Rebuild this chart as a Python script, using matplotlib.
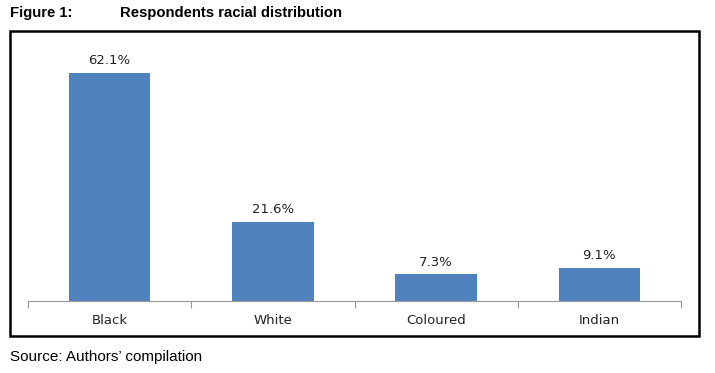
import matplotlib
matplotlib.use("Agg")
import matplotlib.pyplot as plt
from matplotlib.patches import Rectangle

categories = ["Black", "White", "Coloured", "Indian"]
values = [62.1, 21.6, 7.3, 9.1]
labels = ["62.1%", "21.6%", "7.3%", "9.1%"]

fig = plt.figure(figsize=(7.15, 3.73), dpi=100)
W, H = 715, 373

def fx(x): return x / W
def fy(y): return 1 - y / H

ax = fig.add_axes([fx(28), fy(301), fx(681) - fx(28), fy(44) - fy(301)])
x = list(range(len(categories)))
ax.bar(x, values, width=0.5, color="#4F81BD")
ax.set_xlim(-0.5, len(categories) - 0.5)
ax.set_ylim(0, 70)
for xi, v, lab in zip(x, values, labels):
    ax.annotate(lab, (xi, v), xytext=(0, 4), textcoords="offset points",
                ha="center", va="bottom", fontsize=9.5, color="#222222",
                family="DejaVu Sans")
for s in ["top", "right", "left"]:
    ax.spines[s].set_visible(False)
ax.spines["bottom"].set_color("#999999")
ax.set_yticks([])
ax.set_xticks([i - 0.5 for i in range(len(categories) + 1)], minor=False)
ax.set_xticklabels([])
ax.tick_params(axis="x", length=5, color="#999999", direction="out")
ax.set_xticks(x, minor=True)
ax.set_xticklabels(categories, minor=True)
ax.tick_params(axis="x", which="minor", length=0, pad=9, labelsize=9.5,
               labelcolor="#222222")

# outer frame
fig.patches.append(Rectangle((fx(10), fy(336)), fx(699) - fx(10), fy(31) - fy(336),
                             transform=fig.transFigure, fill=False,
                             edgecolor="black", linewidth=1.8))

fig.text(fx(10), fy(13), "Figure 1:", fontsize=10.7, fontweight="bold",
         family="Liberation Sans", va="center", ha="left")
fig.text(fx(120), fy(13), "Respondents racial distribution", fontsize=10.7,
         fontweight="bold", family="Liberation Sans", va="center", ha="left")
fig.text(fx(10), fy(357), "Source: Authors\u2019 compilation", fontsize=11,
         family="Liberation Sans", va="center", ha="left")

fig.savefig("out.png", dpi=100)
